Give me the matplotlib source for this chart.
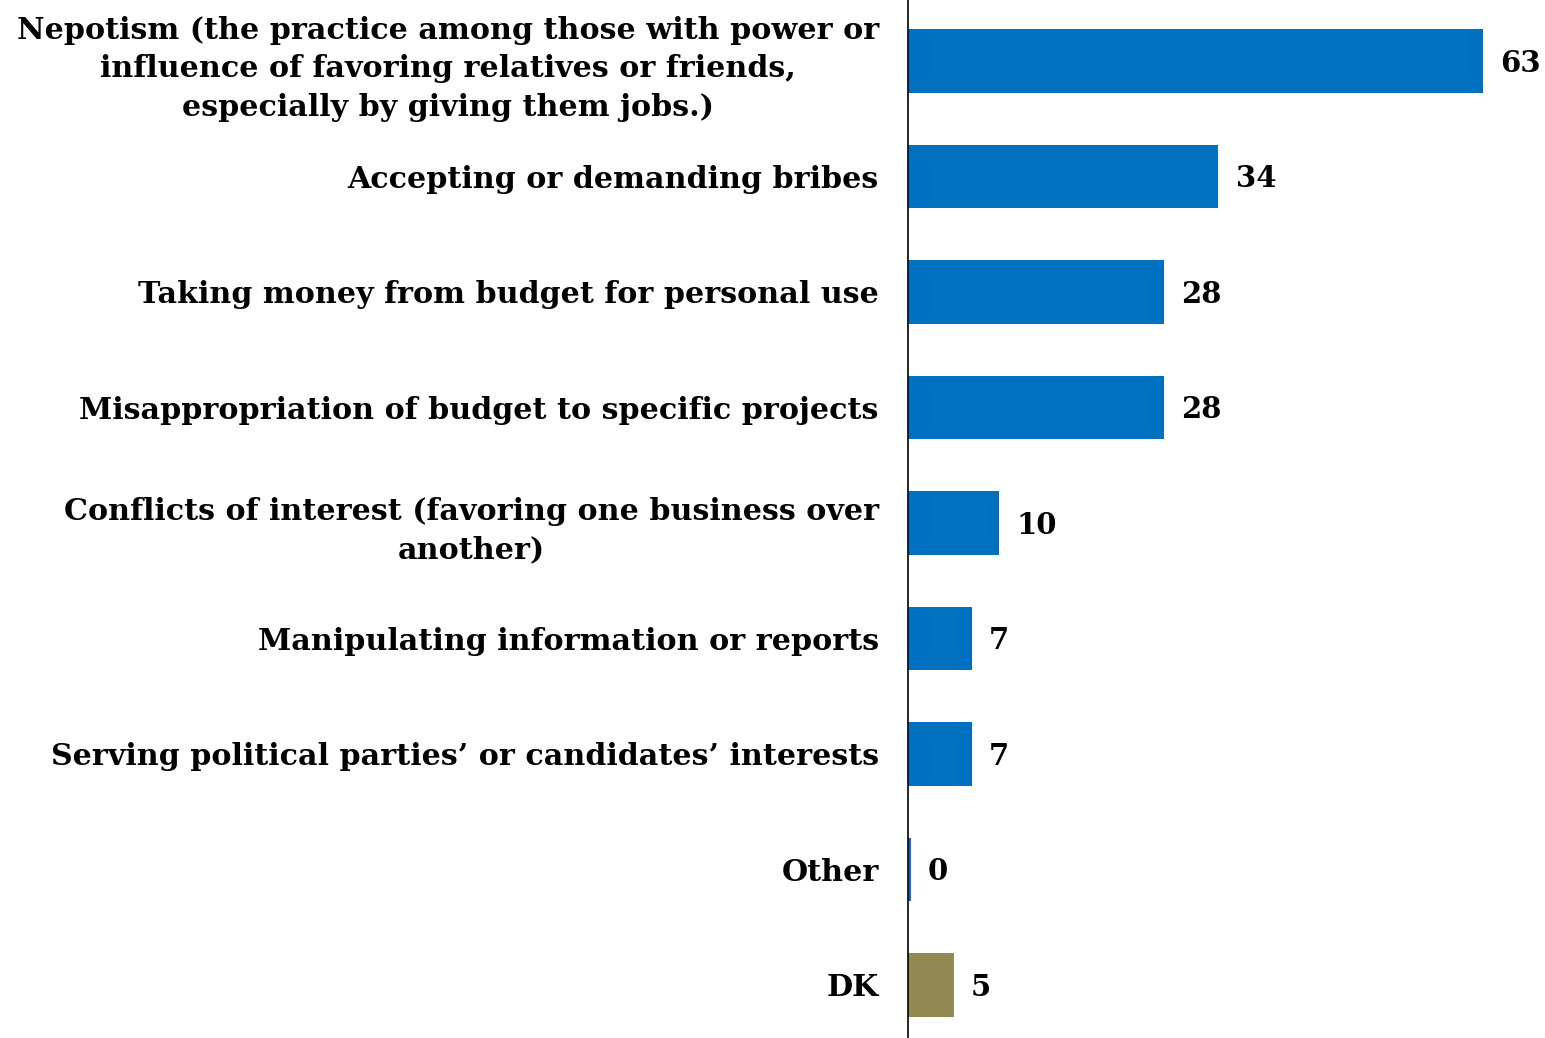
import matplotlib.pyplot as plt

categories = [
    "Nepotism (the practice among those with power or\ninfluence of favoring relatives or friends,\nespecially by giving them jobs.)",
    "Accepting or demanding bribes",
    "Taking money from budget for personal use",
    "Misappropriation of budget to specific projects",
    "Conflicts of interest (favoring one business over\nanother)",
    "Manipulating information or reports",
    "Serving political parties\u2019 or candidates\u2019 interests",
    "Other",
    "DK",
]
values = [63, 34, 28, 28, 10, 7, 7, 0.3, 5]
value_labels = ["63", "34", "28", "28", "10", "7", "7", "0", "5"]
colors = ["#0070C0"] * 8 + ["#938953"]

plt.rcParams['font.family'] = ['DejaVu Serif']

fig = plt.figure(figsize=(15.45, 10.38), dpi=100)
ax = fig.add_axes([908 / 1545, 0, 1 - 908 / 1545, 1])

pos = list(range(len(categories)))
ax.barh(pos, values, height=0.55, color=colors)
ax.set_ylim(8.46, -0.528)
ax.set_xlim(0, 69.8)

for p, v, lab in zip(pos, values, value_labels):
    ax.text(v + 1.9, p + 0.02, lab, va='center', ha='left', fontsize=21, fontweight='bold')

ax.set_yticks(pos)
ax.set_yticklabels(categories, fontsize=21.7, fontweight='bold',
                   multialignment='center', linespacing=1.42)
ax.tick_params(axis='y', length=0, pad=21)
ax.set_xticks([])
for s in ['top', 'right', 'bottom']:
    ax.spines[s].set_visible(False)
ax.spines['left'].set_linewidth(1.2)

fig.savefig("out.png", dpi=100)
